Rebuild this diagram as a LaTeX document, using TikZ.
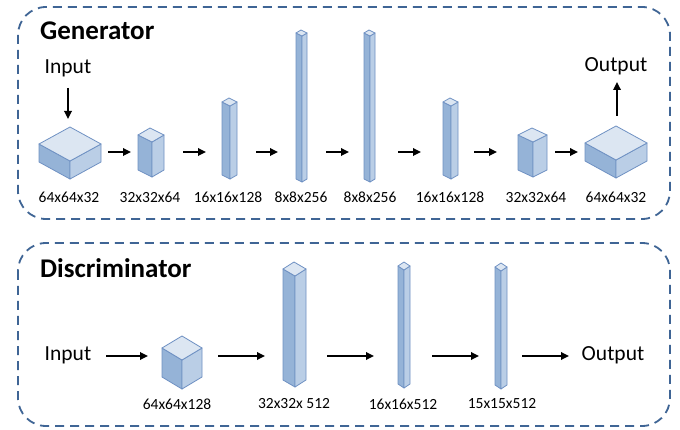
\documentclass[tikz,border=0pt]{standalone}
\usepackage{fontspec}
\setmainfont{Carlito}
\usetikzlibrary{arrows.meta}
\definecolor{topc}{HTML}{DCE6F2}
\definecolor{leftc}{HTML}{95B3D7}
\definecolor{rightc}{HTML}{BACEE6}
\definecolor{edgec}{HTML}{6F91C3}
\definecolor{dashc}{HTML}{3F6595}
% cuboid: cx, yF (front-top vertex y), a (left width), b (right width), d (top rise), h (height), name
\newcommand\cub[7]{%
  \filldraw[cubeedge,fill=leftc] ({#1-#3},{#2-#5}) -- (#1,#2) -- ({#1},{#2+#6}) -- ({#1-#3},{#2-#5+#6}) -- cycle;
  \filldraw[cubeedge,fill=rightc] (#1,#2) -- ({#1+#4},{#2-#5}) -- ({#1+#4},{#2-#5+#6}) -- ({#1},{#2+#6}) -- cycle;
  \filldraw[cubeedge,fill=topc] (#1,#2) -- ({#1+#4},{#2-#5}) -- ({#1+#4-#3},{#2-2*#5}) -- ({#1-#3},{#2-#5}) -- cycle;
  \coordinate (#7) at (#1,{#2+#6/2});
}
\tikzset{
  cubeedge/.style={draw=edgec, line width=0.8pt, line join=round},
  arr/.style={-{Triangle[length=8pt,width=7.5pt]}, line width=1.7pt, black},
  frame/.style={draw=dashc, line width=1.8pt, dash pattern=on 9pt off 6pt, rounded corners=28pt},
  dimlbl/.style={font=\fontsize{15.5}{18}\selectfont, inner sep=0pt},
  iolbl/.style={font=\fontsize{21.5}{24}\selectfont, inner sep=0pt},
  ttl/.style={font=\fontsize{27}{30}\selectfont\bfseries, inner sep=0pt, anchor=west},
}
\begin{document}
\begin{tikzpicture}[x=1pt,y=-1pt]
\useasboundingbox (0,0) rectangle (680,430);
\fill[white] (0,0) rectangle (680,430);
% frames
\draw[frame] (18,7) rectangle (670,219);
\draw[frame] (18,243) rectangle (670,426);
\node[ttl] (gt) at (40,31) {Generator};
\node[ttl] (dt) at (40,268) {Discriminator};
% generator cuboids
\cub{70}{161}{31}{31}{17}{18}{g1}
\cub{152}{142}{14}{12}{7}{35}{g2}
\cub{230}{106}{8}{7}{4}{73}{g3}
\cub{302}{36}{6}{5}{3}{146}{g4}
\cub{370}{36}{6}{5}{3}{146}{g5}
\cub{451}{106}{8}{7}{4}{73}{g6}
\cub{533}{142}{15}{14}{7}{35}{g7}
\cub{616}{160}{31}{31}{17}{18}{g8}
% generator labels
\node[dimlbl] (gl1) at (69,197) {64x64x32};
\node[dimlbl] (gl2) at (150,197) {32x32x64};
\node[dimlbl] (gl3) at (228,197) {16x16x128};
\node[dimlbl] (gl4) at (301,197) {8x8x256};
\node[dimlbl] (gl5) at (370,197) {8x8x256};
\node[dimlbl] (gl6) at (450,197) {16x16x128};
\node[dimlbl] (gl7) at (536,197) {32x32x64};
\node[dimlbl] (gl8) at (616,197) {64x64x32};
\node[iolbl] (gin) at (68,68) {Input};
\node[iolbl] (gout) at (616,66) {Output};
% generator arrows
\coordinate (gi0) at (68,88); \coordinate (gi1) at (68,119);
\draw[arr] (gi0) -- (gi1);
\coordinate (go0) at (617,116); \coordinate (go1) at (617,82);
\draw[arr] (go0) -- (go1);
\foreach \a/\b [count=\i] in {108/131,183/206,256/278,326/349,398/421,474/497,555/578}{
  \coordinate (ga\i) at (\a,152); \coordinate (gb\i) at (\b,152);
  \draw[arr] (ga\i) -- (gb\i);
}
% discriminator cuboids
\cub{182}{360}{20}{20}{12}{29}{d1}
\cub{295}{276}{12}{11}{7}{111}{d2}
\cub{404}{270}{6}{6}{4}{118}{d3}
\cub{501}{271}{6}{6}{4}{118}{d4}
\node[dimlbl] (dl1) at (177,404) {64x64x128};
\node[dimlbl] (dl2) at (294,404) {32x32x 512};
\node[dimlbl] (dl3) at (403,404) {16x16x512};
\node[dimlbl] (dl4) at (502,404) {15x15x512};
\node[iolbl] (din) at (68,355) {Input};
\node[iolbl] (dout) at (613,355) {Output};
\foreach \a/\b [count=\i] in {106/148,218/265,327/374,432/479,522/569}{
  \coordinate (da\i) at (\a,356); \coordinate (db\i) at (\b,356);
  \draw[arr] (da\i) -- (db\i);
}
\end{tikzpicture}
\end{document}
